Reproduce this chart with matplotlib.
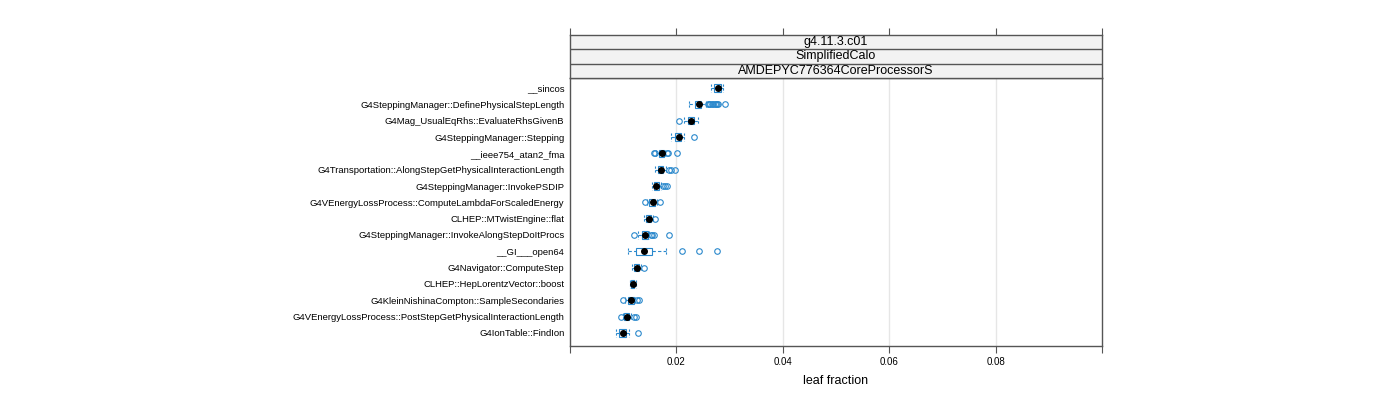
import matplotlib
matplotlib.use("Agg")
import matplotlib.pyplot as plt

plt.rcParams['font.family'] = ['Liberation Sans', 'DejaVu Sans']

# functions, top row first
labels = [
    "__sincos",
    "G4SteppingManager::DefinePhysicalStepLength",
    "G4Mag_UsualEqRhs::EvaluateRhsGivenB",
    "G4SteppingManager::Stepping",
    "__ieee754_atan2_fma",
    "G4Transportation::AlongStepGetPhysicalInteractionLength",
    "G4SteppingManager::InvokePSDIP",
    "G4VEnergyLossProcess::ComputeLambdaForScaledEnergy",
    "CLHEP::MTwistEngine::flat",
    "G4SteppingManager::InvokeAlongStepDoItProcs",
    "__GI___open64",
    "G4Navigator::ComputeStep",
    "CLHEP::HepLorentzVector::boost",
    "G4KleinNishinaCompton::SampleSecondaries",
    "G4VEnergyLossProcess::PostStepGetPhysicalInteractionLength",
    "G4IonTable::FindIon",
]

whislo = [0.02642, 0.02245, 0.0215, 0.01906, 0.01623, 0.01594, 0.01547, 0.01453,
          0.01396, 0.01283, 0.01094, 0.0117, 0.01123, 0.01038, 0.00991, 0.00868]
q1 = [0.02698, 0.02358, 0.02226, 0.01981, 0.0167, 0.0166, 0.01575, 0.01491,
      0.01425, 0.01358, 0.01245, 0.01208, 0.01151, 0.01085, 0.01019, 0.00925]
med = [0.02783, 0.02421, 0.02283, 0.02043, 0.01723, 0.01704, 0.01623, 0.01557,
       0.01477, 0.01409, 0.01396, 0.01251, 0.01179, 0.01145, 0.0107, 0.00987]
q3 = [0.0283, 0.02466, 0.0234, 0.02094, 0.01764, 0.01755, 0.01679, 0.01604,
      0.01528, 0.01462, 0.01547, 0.01302, 0.01208, 0.01198, 0.01113, 0.01047]
whishi = [0.02877, 0.02547, 0.02406, 0.02151, 0.01792, 0.01802, 0.01717, 0.01642,
          0.01557, 0.01491, 0.01802, 0.0133, 0.01236, 0.01226, 0.01151, 0.01104]
outliers = [
    [],
    [0.02585, 0.02613, 0.0264, 0.0266, 0.02689, 0.02717, 0.02736, 0.02755, 0.02774, 0.02919],
    [0.0205],
    [0.02326],
    [0.01575, 0.01594, 0.0183, 0.01849, 0.02009],
    [0.01868, 0.01906, 0.01972],
    [0.01755, 0.01792, 0.0183],
    [0.01406, 0.01698],
    [0.01604],
    [0.01208, 0.01528, 0.01547, 0.01575, 0.01855],
    [0.02104, 0.02425, 0.02755],
    [0.01396],
    [],
    [0.01, 0.01264, 0.01292],
    [0.00953, 0.01198, 0.01236],
    [0.01283],
]

strips = ["g4.11.3.c01", "SimplifiedCalo", "AMDEPYC776364CoreProcessorS"]

blue = "#2a88cc"
frame = "#555555"

fig = plt.figure(figsize=(14, 4), dpi=100)
W, H = 1400.0, 400.0
left, right = 570 / W, 1102 / W
ax = fig.add_axes([left, 1 - 346 / H, right - left, (346 - 78) / H])

n = len(labels)
for i in range(n):
    y = i
    h = 0.23
    ax.add_patch(plt.Rectangle((q1[i], y - h), q3[i] - q1[i], 2 * h,
                               fill=False, ec=blue, lw=0.8, zorder=3))
    ax.plot([whislo[i], q1[i]], [y, y], color=blue, lw=0.8, ls=(0, (3, 2)), zorder=3)
    ax.plot([q3[i], whishi[i]], [y, y], color=blue, lw=0.8, ls=(0, (3, 2)), zorder=3)
    for xv in (whislo[i], whishi[i]):
        ax.plot([xv, xv], [y - h, y + h], color=blue, lw=0.8, ls=(0, (2, 1.5)), zorder=3)
    ax.plot([med[i]], [y], "o", color="black", ms=4, zorder=4)
    if outliers[i]:
        ax.plot(outliers[i], [y] * len(outliers[i]), "o", mfc="none", mec=blue,
                ms=4, mew=0.8, zorder=3)

ax.set_xlim(0, 0.1)
ax.set_ylim(15 + 13 / 16.33, -10 / 16.33)
xt = [0, 0.02, 0.04, 0.06, 0.08, 0.1]
ax.set_xticks(xt)
ax.set_xticklabels(["", "0.02", "0.04", "0.06", "0.08", ""], fontsize=7)
for xv in xt[1:-1]:
    ax.axvline(xv, color="#e6e6e6", lw=1, zorder=0)
ax.set_yticks(range(n))
ax.set_yticklabels(labels, fontsize=6.8)
ax.tick_params(axis="y", length=0, pad=4)
ax.tick_params(axis="x", length=5, color=frame, pad=3)
for s in ax.spines.values():
    s.set_color(frame)
    s.set_linewidth(1)
ax.set_xlabel("leaf fraction", fontsize=9, labelpad=6)

# strips on top
sax = fig.add_axes([left, 1 - 78 / H, right - left, 43 / H])
sax.set_xlim(0, 0.1)
sax.set_ylim(0, 3)
sax.set_facecolor("#f2f2f2")
sax.set_xticks(xt)
sax.xaxis.tick_top()
sax.set_xticklabels([])
sax.tick_params(axis="x", length=5, color=frame)
sax.set_yticks([])
for k in (1, 2):
    sax.axhline(k, color=frame, lw=1)
for k, txt in enumerate(strips):
    sax.text(0.05, 2.5 - k, txt, ha="center", va="center", fontsize=9)
for s in sax.spines.values():
    s.set_color(frame)
    s.set_linewidth(1)

fig.savefig("out.png", dpi=100)
